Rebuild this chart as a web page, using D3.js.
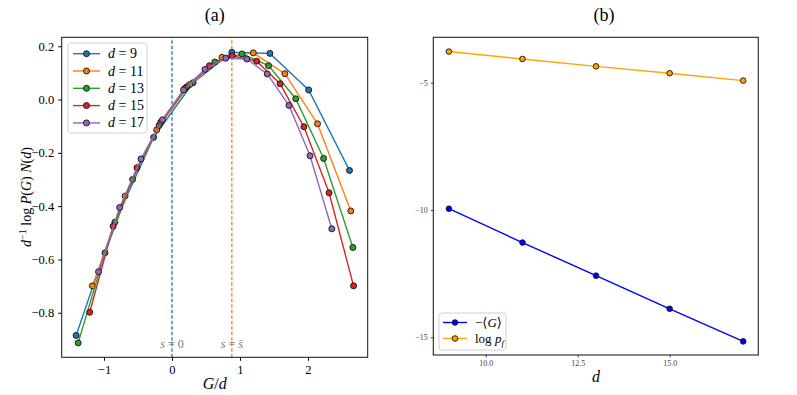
<!DOCTYPE html>
<head>
    <meta charset="utf-8">
    <title>Two panel chart</title>
    <script type="text/javascript" src="https://d3js.org/d3.v7.min.js"></script>
    <style>
        body { margin: 0; background: #fff; }
        text { font-family: "Liberation Serif", "DejaVu Serif", serif; }
    </style>
</head>
<body>
    <div id="container"></div>

<script>
    //-----------------------------DATA-----------------------------//
    // panel (a): G/d and d^-1 log P(G) N(d), one pair per system size
    const d9x  = [-1.41, -0.84, -0.27, 0.31, 0.88, 1.44, 2.01, 2.61];
    const d9y  = [-0.885, -0.46, -0.142, 0.063, 0.177, 0.173, 0.036, -0.266];
    const d11x = [-1.17, -0.69, -0.225, 0.26, 0.735, 1.196, 1.66, 2.14, 2.63];
    const d11y = [-0.699, -0.362, -0.114, 0.056, 0.158, 0.175, 0.097, -0.091, -0.418];
    const d13x = [-1.38, -0.985, -0.58, -0.19, 0.22, 0.63, 1.03, 1.42, 1.82, 2.23, 2.66];
    const d13y = [-0.913, -0.575, -0.30, -0.097, 0.048, 0.141, 0.171, 0.127, 0.003, -0.221, -0.555];
    const d15x = [-1.21, -0.865, -0.515, -0.165, 0.19, 0.55, 0.887, 1.245, 1.59, 1.94, 2.31, 2.67];
    const d15y = [-0.798, -0.475, -0.256, -0.085, 0.042, 0.127, 0.164, 0.144, 0.059, -0.102, -0.35, -0.699];
    const d17x = [-1.08, -0.77, -0.456, -0.14, 0.17, 0.485, 0.79, 1.10, 1.40, 1.72, 2.03, 2.35];
    const d17y = [-0.646, -0.405, -0.223, -0.076, 0.036, 0.113, 0.155, 0.152, 0.096, -0.022, -0.211, -0.485];
    const sizes = [9, 11, 13, 15, 17];
    const vlines = [0, 0.88];          // s = 0 and s = s-bar
    const ticksA_x = [-1, 0, 1, 2];
    const ticksA_y = [-0.8, -0.6, -0.4, -0.2, 0.0, 0.2];

    // panel (b)
    const dims = [9, 11, 13, 15, 17];
    const negMeanG = [-9.95, -11.28, -12.58, -13.88, -15.16];
    const logPf = [-3.78, -4.07, -4.36, -4.63, -4.92];
    const ticksB_x = [10, 12.5, 15];
    const ticksB_y = [-5, -10, -15];

    const tab10 = ["#1f77b4", "#ff7f0e", "#2ca02c", "#d62728", "#9467bd"];
    const minus = s => s.replace("-", "\u2212");
    const serif = "Liberation Serif";

    //-----------------------------SVG------------------------------//
    const W = 797, H = 395;
    const svg = d3.select("#container").append("svg")
        .attr("width", W).attr("height", H);

    //==========================PANEL (a)===========================//
    const xA = d3.scaleLinear().domain([-1.622, 2.878]).range([61.7, 367.7]);
    const yA = d3.scaleLinear().domain([-0.967, 0.2334]).range([357.3, 37.3]);

    const gA = svg.append("g");

    // dashed reference lines
    vlines.forEach((v, i) => {
        gA.append("line")
            .attr("x1", xA(v)).attr("x2", xA(v))
            .attr("y1", yA.range()[0]).attr("y2", yA.range()[1])
            .attr("stroke", tab10[i]).attr("stroke-width", 1.3)
            .attr("stroke-dasharray", "3.5,2");
    });

    const slices = [[d9x, d9y], [d11x, d11y], [d13x, d13y], [d15x, d15y], [d17x, d17y]]
        .map((p, i) => ({ d: sizes[i], color: tab10[i],
            values: p[0].map((x, k) => ({ x: x, y: p[1][k] })) }));

    const lineA = d3.line().x(d => xA(d.x)).y(d => yA(d.y));

    const lines = gA.selectAll("g.series").data(slices).enter().append("g");
    lines.append("path")
        .attr("d", d => lineA(d.values))
        .attr("fill", "none")
        .attr("stroke", d => d.color)
        .attr("stroke-width", 1.4);
    lines.each(function (s) {
        d3.select(this).selectAll("circle").data(s.values).enter().append("circle")
            .attr("cx", d => xA(d.x)).attr("cy", d => yA(d.y))
            .attr("r", 3)
            .attr("fill", s.color)
            .attr("stroke", "#111").attr("stroke-width", 0.9);
    });

    // labels on the dashed lines
    vlines.forEach((v, i) => {
        const t = gA.append("text")
            .attr("x", xA(v)).attr("y", 348)
            .attr("text-anchor", "middle")
            .attr("font-size", 12).attr("fill", "#777");
        t.append("tspan").attr("font-style", "italic").text("s");
        t.append("tspan").text(" = ");
        if (i === 0) t.append("tspan").text("0");
        else t.append("tspan").attr("font-style", "italic").text("s\u0304");
    });

    // axes
    gA.append("g")
        .attr("transform", "translate(0," + yA.range()[0] + ")")
        .attr("font-family", serif)
        .call(d3.axisBottom(xA).tickValues(ticksA_x).tickSize(3.5).tickPadding(4)
            .tickFormat(d => minus(d3.format("d")(d))))
        .call(g => g.select(".domain").remove())
        .selectAll("text").attr("font-size", 12.5);
    gA.append("g")
        .attr("transform", "translate(" + xA.range()[0] + ",0)")
        .attr("font-family", serif)
        .call(d3.axisLeft(yA).tickValues(ticksA_y).tickSize(3.5).tickPadding(4)
            .tickFormat(d => minus(d3.format(".1f")(d))))
        .call(g => g.select(".domain").remove())
        .selectAll("text").attr("font-size", 12.5);

    gA.append("rect")
        .attr("x", xA.range()[0]).attr("y", yA.range()[1])
        .attr("width", xA.range()[1] - xA.range()[0])
        .attr("height", yA.range()[0] - yA.range()[1])
        .attr("fill", "none").attr("stroke", "#111").attr("stroke-width", 1);

    // legend
    const legA = gA.append("g").attr("transform", "translate(68,43)");
    legA.append("rect")
        .attr("width", 79).attr("height", 90).attr("rx", 3)
        .attr("fill", "#fff").attr("fill-opacity", 0.85)
        .attr("stroke", "#d0d0d0").attr("stroke-width", 1);
    slices.forEach((s, i) => {
        const yy = 10.7 + i * 17.3;
        legA.append("line").attr("x1", 5).attr("x2", 32).attr("y1", yy).attr("y2", yy)
            .attr("stroke", s.color).attr("stroke-width", 1.4);
        legA.append("circle").attr("cx", 18.5).attr("cy", yy).attr("r", 3)
            .attr("fill", s.color).attr("stroke", "#111").attr("stroke-width", 0.9);
        const t = legA.append("text").attr("x", 40).attr("y", yy + 4.5).attr("font-size", 14);
        t.append("tspan").attr("font-style", "italic").text("d");
        t.append("tspan").text(" = " + s.d);
    });

    // titles and axis labels
    svg.append("text").attr("x", 214.7).attr("y", 21).attr("text-anchor", "middle")
        .attr("font-size", 18).text("(a)");
    const xlA = svg.append("text").attr("x", 214.7).attr("y", 389).attr("text-anchor", "middle")
        .attr("font-size", 16);
    xlA.append("tspan").attr("font-style", "italic").text("G");
    xlA.append("tspan").text("/");
    xlA.append("tspan").attr("font-style", "italic").text("d");

    const ylA = svg.append("text")
        .attr("transform", "translate(31,197) rotate(-90)")
        .attr("text-anchor", "middle").attr("font-size", 14);
    ylA.append("tspan").attr("font-style", "italic").text("d");
    ylA.append("tspan").attr("font-size", 10).attr("dy", -5).text("\u22121");
    ylA.append("tspan").attr("dy", 5).text(" log ");
    ylA.append("tspan").attr("font-style", "italic").text("P");
    ylA.append("tspan").text("(");
    ylA.append("tspan").attr("font-style", "italic").text("G");
    ylA.append("tspan").text(") ");
    ylA.append("tspan").attr("font-style", "italic").text("N");
    ylA.append("tspan").text("(");
    ylA.append("tspan").attr("font-style", "italic").text("d");
    ylA.append("tspan").text(")");

    //==========================PANEL (b)===========================//
    const xB = d3.scaleLinear().domain([8.576, 17.41]).range([433.3, 758.3]);
    const yB = d3.scaleLinear().domain([-15.695, -3.22]).range([355, 37.3]);
    const gB = svg.append("g");

    const seriesB = [
        { name: "neg", color: "#0000ff", values: dims.map((d, i) => ({ x: d, y: negMeanG[i] })) },
        { name: "pf", color: "#ffa500", values: dims.map((d, i) => ({ x: d, y: logPf[i] })) }
    ];
    const lineB = d3.line().x(d => xB(d.x)).y(d => yB(d.y));
    seriesB.forEach(s => {
        gB.append("path").attr("d", lineB(s.values))
            .attr("fill", "none").attr("stroke", s.color).attr("stroke-width", 1.4);
        gB.selectAll(null).data(s.values).enter().append("circle")
            .attr("cx", d => xB(d.x)).attr("cy", d => yB(d.y)).attr("r", 2.8)
            .attr("fill", s.color).attr("stroke", "#111").attr("stroke-width", 0.9);
    });

    gB.append("g")
        .attr("transform", "translate(0," + yB.range()[0] + ")")
        .attr("font-family", serif)
        .call(d3.axisBottom(xB).tickValues(ticksB_x).tickSize(2.5).tickPadding(3)
            .tickFormat(d3.format(".1f")))
        .call(g => g.select(".domain").remove())
        .call(g => g.selectAll("line").attr("stroke", "#444"))
        .selectAll("text").attr("font-size", 8).attr("fill", "#444");
    gB.append("g")
        .attr("transform", "translate(" + xB.range()[0] + ",0)")
        .attr("font-family", serif)
        .call(d3.axisLeft(yB).tickValues(ticksB_y).tickSize(2.5).tickPadding(3)
            .tickFormat(d => minus(String(d))))
        .call(g => g.select(".domain").remove())
        .call(g => g.selectAll("line").attr("stroke", "#444"))
        .selectAll("text").attr("font-size", 8).attr("fill", "#444");

    gB.append("rect")
        .attr("x", xB.range()[0]).attr("y", yB.range()[1])
        .attr("width", xB.range()[1] - xB.range()[0])
        .attr("height", yB.range()[0] - yB.range()[1])
        .attr("fill", "none").attr("stroke", "#222").attr("stroke-width", 1.1);

    // legend (b)
    const legB = gB.append("g").attr("transform", "translate(439,313)");
    legB.append("rect").attr("width", 67).attr("height", 37).attr("rx", 3)
        .attr("fill", "#fff").attr("fill-opacity", 0.85)
        .attr("stroke", "#d0d0d0").attr("stroke-width", 1);
    seriesB.forEach((s, i) => {
        const yy = 9.5 + i * 16;
        legB.append("line").attr("x1", 4).attr("x2", 28).attr("y1", yy).attr("y2", yy)
            .attr("stroke", s.color).attr("stroke-width", 1.4);
        legB.append("circle").attr("cx", 16).attr("cy", yy).attr("r", 2.8)
            .attr("fill", s.color).attr("stroke", "#111").attr("stroke-width", 0.9);
        const t = legB.append("text").attr("x", 36).attr("y", yy + 4.5).attr("font-size", 13);
        if (i === 0) {
            t.append("tspan").text("\u2212\u27E8");
            t.append("tspan").attr("font-style", "italic").text("G");
            t.append("tspan").text("\u27E9");
        } else {
            t.append("tspan").text("log ");
            t.append("tspan").attr("font-style", "italic").text("p");
            t.append("tspan").attr("font-style", "italic").attr("font-size", 9).attr("dy", 3).text("f");
        }
    });

    svg.append("text").attr("x", 604).attr("y", 21).attr("text-anchor", "middle")
        .attr("font-size", 18).text("(b)");
    svg.append("text").attr("x", 596).attr("y", 382).attr("text-anchor", "middle")
        .attr("font-size", 16).attr("font-style", "italic").text("d");
</script>
</body>
